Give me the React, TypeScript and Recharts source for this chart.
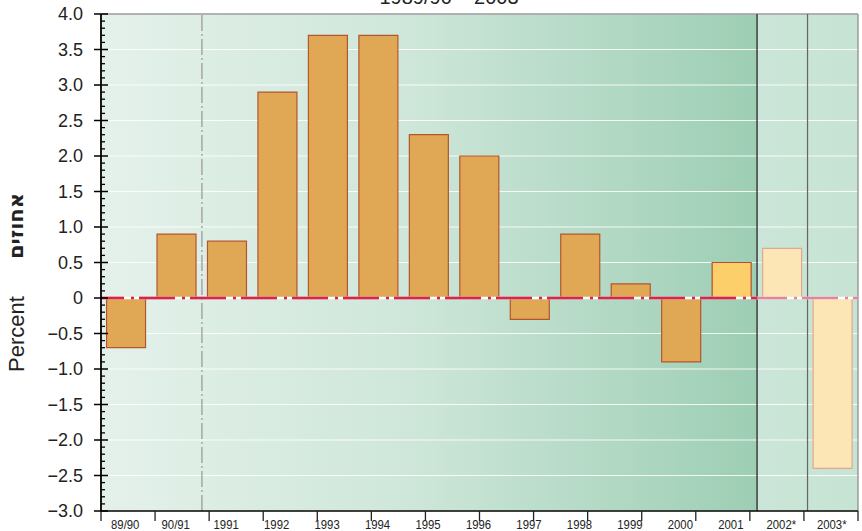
import { BarChart, Bar, XAxis, YAxis, CartesianGrid, ReferenceLine, Cell, Label } from 'recharts';

const categories = ['89/90', '90/91', '1991', '1992', '1993', '1994', '1995', '1996', '1997', '1998', '1999', '2000', '2001', '2002*', '2003*'];
const growth = [-0.7, 0.9, 0.8, 2.9, 3.7, 3.7, 2.3, 2.0, -0.3, 0.9, 0.2, -0.9, 0.5, 0.7, -2.4];
const yTicks = [-3, -2.5, -2, -1.5, -1, -0.5, 0, 0.5, 1, 1.5, 2, 2.5, 3, 3.5, 4];
const forecastYears = ['2002*', '2003*'];
const highlightYear = '2001';

const data = categories.map((year, i) => ({ year, value: growth[i] }));
const minorTicks = Array.from({ length: 71 }, (_, i) => Math.round((-3 + i * 0.1) * 10) / 10);
const edgeTicks = categories.map((_, i) => i).concat(categories.length);

const fmt = (v: number) => (v === 0 ? '0' : (v < 0 ? '\u2212' : '') + Math.abs(v).toFixed(1));
const noLabel = () => <g />;

const XTick = ({ x, y, payload }: any) => (
  <g transform={`translate(${x - 1},${y})`}>
    <text x={0} y={0} dy={10} textAnchor="middle" fontSize={13.5} fill="#222" transform="scale(0.84,1)"
      fontFamily="'Liberation Sans', Arial, sans-serif">{payload.value}</text>
  </g>
);

const YTick = ({ x, y, payload }: any) => {
  const v = payload.value;
  const major = yTicks.includes(v);
  if (!major) return <line x1={x} x2={x + 4} y1={y} y2={y} stroke="#000" strokeWidth={1.3} />;
  return (
    <g>
      <line x1={x - 7} x2={x + 7} y1={y} y2={y} stroke="#000" strokeWidth={1.5} />
      <text x={x - 18} y={y} dy="0.36em" textAnchor="end" fontSize={18} fill="#222"
        fontFamily="'Liberation Sans', Arial, sans-serif">{fmt(v)}</text>
    </g>
  );
};

const barFill = (year: string) => {
  if (forecastYears.includes(year)) return { fill: '#fde6b6', stroke: '#dfa98f' };
  if (year === highlightYear) return { fill: '#fdcf6b', stroke: '#b4502f' };
  return { fill: '#e0a855', stroke: '#b4552f' };
};

const axisTitles = ({ viewBox }: any) => (
  <g>
    <text x={viewBox.x + 24} y={viewBox.y + 320} transform={`rotate(-90 ${viewBox.x + 24} ${viewBox.y + 320})`}
      textAnchor="middle" fontSize={22} fill="#222" fontFamily="'Liberation Sans', Arial, sans-serif">Percent</text>
    <text x={viewBox.x + 23} y={viewBox.y + 212} transform={`rotate(-90 ${viewBox.x + 23} ${viewBox.y + 212})`}
      textAnchor="middle" fontSize={21} fontWeight={600} fill="#222" fontFamily="'Noto Sans', 'DejaVu Sans', sans-serif">אחוזים</text>
  </g>
);

const dash = '36 7 3 5';

export default function App() {
  return (
    <div style={{ position: 'absolute', left: 0, top: 0, width: 862, height: 531, background: '#fff' }}>
      <div style={{ position: 'absolute', left: 18, top: -13, width: 862, textAlign: 'center', fontSize: 20, lineHeight: '20px', fontFamily: "'Liberation Sans', Arial, sans-serif", color: '#222' }}>
        1989/90 – 2003
      </div>
      <BarChart width={862} height={531} data={data} margin={{ top: 14, right: 4, bottom: 0, left: 0 }} barCategoryGap="11%">
        <defs>
          <linearGradient id="plotBg" x1="0" y1="0" x2="1" y2="0">
            <stop offset="0%" stopColor="#e4f1ea" />
            <stop offset="40%" stopColor="#cfe7da" />
            <stop offset="86.66%" stopColor="#9dceb4" />
            <stop offset="86.67%" stopColor="#cbe6d8" />
            <stop offset="100%" stopColor="#c6e3d3" />
          </linearGradient>
        </defs>
        <CartesianGrid yAxisId="main" xAxisId="cat" vertical={false} horizontalValues={yTicks}
          stroke="#ffffff" strokeOpacity={0.85} strokeWidth={1.2} fill="url(#plotBg)" fillOpacity={1} />
        <XAxis xAxisId="cat" dataKey="year" interval={0} height={20} tickLine={false} tickSize={0} tickMargin={8}
          axisLine={{ stroke: '#000', strokeWidth: 1.5 }} tick={<XTick />} />
        <XAxis xAxisId="edges" type="number" domain={[0, categories.length]} ticks={edgeTicks} interval={0} mirror height={1}
          tick={noLabel} axisLine={false} tickSize={-10} tickLine={{ stroke: '#222', strokeWidth: 1.3 }} />
        <YAxis yAxisId="main" domain={[-3, 4]} ticks={minorTicks} interval={0} width={101} tickSize={0} tickMargin={0}
          tickLine={false} axisLine={{ stroke: '#000', strokeWidth: 1.8 }} tick={<YTick />}>
          <Label content={axisTitles} />
        </YAxis>
        <ReferenceLine yAxisId="main" xAxisId="cat" y={4} stroke="#9a9a9a" strokeWidth={1.5} />
        <ReferenceLine yAxisId="main" xAxisId="cat" x="1991" position="start" stroke="#9c9c9c" strokeWidth={1.3} strokeDasharray="16 3 2 3" />
        <ReferenceLine yAxisId="main" xAxisId="cat" x="2002*" position="start" stroke="#333" strokeWidth={1.4} />
        <ReferenceLine yAxisId="main" xAxisId="cat" x="2003*" position="start" stroke="#666" strokeWidth={1.2} />
        <ReferenceLine yAxisId="main" xAxisId="cat" x="2003*" position="end" stroke="#888" strokeWidth={1.2} />
        <Bar yAxisId="main" xAxisId="cat" dataKey="value" isAnimationActive={false} strokeWidth={1.2}>
          {data.map((d) => {
            const s = barFill(d.year);
            return <Cell key={d.year} fill={s.fill} stroke={s.stroke} />;
          })}
        </Bar>
        <ReferenceLine yAxisId="main" xAxisId="cat" y={0} stroke="#ffffff" strokeWidth={2.5} />
        <ReferenceLine yAxisId="main" xAxisId="cat" y={0} stroke="#e6829b" strokeWidth={2.5} strokeDasharray={dash} strokeDashoffset={13} />
        <ReferenceLine yAxisId="main" xAxisId="cat" position="start" segment={[{ x: '89/90', y: 0 }, { x: '2002*', y: 0 }]}
          stroke="#d6264a" strokeWidth={2.5} strokeDasharray={dash} strokeDashoffset={13} />
      </BarChart>
    </div>
  );
}
